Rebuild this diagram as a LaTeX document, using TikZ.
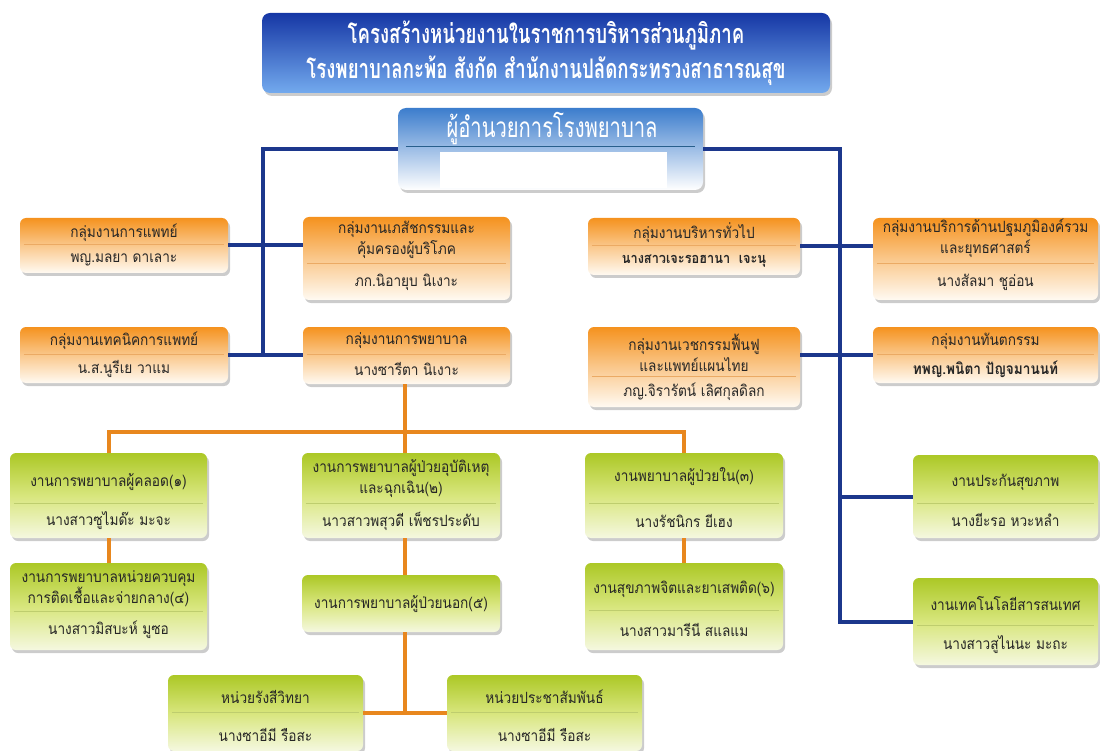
\documentclass[tikz,border=0pt]{standalone}
\usepackage{fontspec}
\newfontfamily\thai[Script=Thai,FakeStretch=0.88]{Loma}
\newfontfamily\thaic[Script=Thai,FakeStretch=0.69]{Loma}
\newfontfamily\thaid[Script=Thai,FakeStretch=0.72]{Loma}
\usetikzlibrary{calc,shadows}
\definecolor{navyline}{RGB}{28,55,140}
\definecolor{orline}{RGB}{232,135,30}
\definecolor{ortop}{RGB}{245,146,30}
\definecolor{ormid}{RGB}{250,200,140}
\definecolor{orbot}{RGB}{255,250,242}
\definecolor{grtop}{RGB}{172,200,38}
\definecolor{grmid}{RGB}{216,230,125}
\definecolor{grbot}{RGB}{245,248,224}
\definecolor{ttop}{RGB}{22,55,165}
\definecolor{tbot}{RGB}{115,170,238}
\definecolor{dtop}{RGB}{60,125,205}
\definecolor{sepor}{RGB}{235,170,100}
\definecolor{sepgr}{RGB}{190,205,110}
\definecolor{dirsep}{RGB}{40,95,140}
\tikzset{
  boxbase/.style={rectangle, rounded corners=6pt, inner sep=0pt, draw=none,
    drop shadow={shadow xshift=2pt, shadow yshift=-3pt, opacity=0.4}},
  obox/.style={boxbase, top color=ortop, bottom color=orbot, middle color=ormid},
  gbox/.style={boxbase, top color=grtop, bottom color=grbot, middle color=grmid},
  titlebox/.style={boxbase, rounded corners=8pt, top color=ttop, bottom color=tbot,
    text=white, align=center, font=\thaic\bfseries\fontsize{27}{35}\selectfont},
  dirbox/.style={boxbase, rounded corners=8pt, top color=dtop, bottom color=white},
  tx/.style={inner sep=0pt, align=center, text=black!85, font=\thai\fontsize{15.5}{21}\selectfont},
  bline/.style={draw=navyline, line width=4pt},
  oline/.style={draw=orline, line width=4pt},
  osep/.style={draw=sepor, line width=0.6pt},
  gsep/.style={draw=sepgr, line width=0.6pt},
}
\newcommand\mkbox[6]{\node[#2, minimum width={#5-#3}, minimum height={#6-#4}] (#1) at ({(#3+#5)/2},{(#4+#6)/2}) {};}
\newcommand\sepline[3]{\draw[#2] ($(#1.north west)+(4,#3)$) -- ($(#1.north east)+(-4,#3)$);}
\begin{document}
\begin{tikzpicture}[x=1pt,y=-1pt]
\useasboundingbox (0,0) rectangle (1100,751);
% ---------- boxes ----------
\node[titlebox, minimum width=568, minimum height=80] (title) at (546,53)
  {โครงสร้างหน่วยงานในราชการบริหารส่วนภูมิภาค\\โรงพยาบาลกะพ้อ สังกัด สำนักงานปลัดกระทรวงสาธารณสุข};
\mkbox{dir}{dirbox}{398}{108}{703}{190}
\node[inner sep=0pt, text=white, font=\thaid\fontsize{28}{32}\selectfont] (dirt) at (552,129) {ผู้อำนวยการโรงพยาบาล};
\draw[draw=dirsep, line width=0.8pt] ($(dir.north west)+(8,39)$) -- ($(dir.north east)+(-8,39)$);
\node[rectangle, fill=white, minimum width=227, minimum height=36, inner sep=0pt] (redact) at (553.5,170) {};

\mkbox{med}{obox}{20}{218}{228}{273}
\mkbox{tech}{obox}{20}{327}{228}{383}
\mkbox{pharm}{obox}{303}{217}{510}{300}
\mkbox{nurse}{obox}{303}{327}{510}{384}
\mkbox{admin}{obox}{588}{218}{800}{275}
\mkbox{rehab}{obox}{588}{327}{800}{407}
\mkbox{prim}{obox}{873}{218}{1098}{300}
\mkbox{dent}{obox}{873}{327}{1098}{383}

\mkbox{ga}{gbox}{10}{453}{207}{538}
\mkbox{gd}{gbox}{10}{563}{207}{650}
\mkbox{gb}{gbox}{302}{453}{500}{538}
\mkbox{ge}{gbox}{302}{575}{500}{632}
\mkbox{gc}{gbox}{585}{453}{783}{538}
\mkbox{gf}{gbox}{585}{563}{783}{650}
\mkbox{gins}{gbox}{913}{455}{1098}{538}
\mkbox{git}{gbox}{913}{578}{1098}{665}
\mkbox{grad}{gbox}{168}{675}{363}{751}
\mkbox{gpr}{gbox}{447}{675}{642}{751}

% ---------- separators ----------
\sepline{med}{osep}{27}
\sepline{tech}{osep}{27}
\sepline{pharm}{osep}{47}
\sepline{nurse}{osep}{27}
\sepline{admin}{osep}{28}
\sepline{rehab}{osep}{49}
\sepline{prim}{osep}{46}
\sepline{dent}{osep}{27}
\sepline{ga}{gsep}{50}
\sepline{gd}{gsep}{48}
\sepline{gb}{gsep}{50}
\sepline{gc}{gsep}{50}
\sepline{gf}{gsep}{47}
\sepline{gins}{gsep}{48}
\sepline{git}{gsep}{47}
\sepline{grad}{gsep}{37}
\sepline{gpr}{gsep}{37}

% ---------- texts ----------
\node[tx] (medt) at (124,233) {กลุ่มงานการแพทย์};
\node[tx] (medn) at (124,260) {พญ.มลยา ดาเลาะ};
\node[tx] (techt) at (124,341) {กลุ่มงานเทคนิคการแพทย์};
\node[tx] (techn) at (124,369) {น.ส.นูรีเย วาแม};
\node[tx] (pharmt) at (406.5,240) {กลุ่มงานเภสัชกรรมและ\\คุ้มครองผู้บริโภค};
\node[tx] (pharmn) at (406.5,282) {ภก.นิอายุบ นิเงาะ};
\node[tx] (nurset) at (406.5,341) {กลุ่มงานการพยาบาล};
\node[tx] (nursen) at (406.5,369) {นางซารีตา นิเงาะ};
\node[tx] (admint) at (694,233) {กลุ่มงานบริหารทั่วไป};
\node[tx, font=\thai\bfseries\fontsize{14.5}{20}\selectfont] (adminn) at (694,261) {นางสาวเจะรอฮานา~~เจะนุ};
\node[tx] (rehabt) at (694,353) {กลุ่มงานเวชกรรมฟื้นฟู\\และแพทย์แผนไทย};
\node[tx] (rehabn) at (694,392) {ภญ.จิรารัตน์ เลิศกุลดิลก};
\node[tx] (primt) at (985.5,238) {กลุ่มงานบริการด้านปฐมภูมิองค์รวม\\และยุทธศาสตร์};
\node[tx] (primn) at (985.5,282) {นางสัลมา ชูอ่อน};
\node[tx] (dentt) at (985.5,341) {กลุ่มงานทันตกรรม};
\node[tx, font=\thai\bfseries\fontsize{15.5}{21}\selectfont] (dentn) at (985.5,369) {ทพญ.พนิตา ปัญจมานนท์};

\node[tx] (gat) at (108.5,482) {งานการพยาบาลผู้คลอด(๑)};
\node[tx] (gan) at (108.5,521) {นางสาวซูไมด๊ะ มะจะ};
\node[tx] (gdt) at (108.5,589) {งานการพยาบาลหน่วยควบคุม\\การติดเชื้อและจ่ายกลาง(๔)};
\node[tx] (gdn) at (108.5,630) {นางสาวมิสบะห์ มูซอ};
\node[tx] (gbt) at (401,479) {งานการพยาบาลผู้ป่วยอุบัติเหตุ\\และฉุกเฉิน(๒)};
\node[tx] (gbn) at (401,521) {นาวสาวพสุวดี เพ็ชรประดับ};
\node[tx] (get) at (401,604) {งานการพยาบาลผู้ป่วยนอก(๕)};
\node[tx] (gct) at (684,477) {งานพยาบาลผู้ป่วยใน(๓)};
\node[tx] (gcn) at (684,521) {นางรัชนิกร ยีเฮง};
\node[tx] (gft) at (684,589) {งานสุขภาพจิตและยาเสพติด(๖)};
\node[tx] (gfn) at (684,630) {นางสาวมารีนี สแลแม};
\node[tx] (ginst) at (1005.5,482) {งานประกันสุขภาพ};
\node[tx] (ginsn) at (1005.5,520) {นางยีะรอ หวะหลำ};
\node[tx] (gitt) at (1005.5,604) {งานเทคโนโลยีสารสนเทศ};
\node[tx] (gitn) at (1005.5,645) {นางสาวสูไนนะ มะถะ};
\node[tx] (gradt) at (265.5,697) {หน่วยรังสีวิทยา};
\node[tx] (gradn) at (265.5,735) {นางซาอีมี รือสะ};
\node[tx] (gprt) at (544.5,697) {หน่วยประชาสัมพันธ์};
\node[tx] (gprn) at (544.5,735) {นางซาอีมี รือสะ};

% ---------- connectors ----------
\coordinate (lbus) at (263,355);
\coordinate (rbus) at (840,621.5);
\coordinate (obus) at (405,432);
\coordinate (ojoin) at (405,713);
\draw[bline] (dir.west) -| (lbus);
\draw[bline] (med.east) -- (med.east -| pharm.west);
\draw[bline] (tech.east) -- (tech.east -| nurse.west);
\draw[bline] (dir.east) -| (rbus) -- (git.west);
\draw[bline] (admin.east) -- (admin.east -| prim.west);
\draw[bline] (dent.west) -- (dent.west -| rehab.east);
\draw[bline] (rbus |- gins.west) -- (gins.west);

\draw[oline] (nurse.south -| obus) -- (obus);
\draw[oline] (ga.north) |- (obus) -| (gc.north);
\draw[oline] (obus) -- (obus |- gb.north);
\draw[oline] (ga.south) -- (gd.north);
\draw[oline] (obus |- gb.south) -- (obus |- ge.north);
\draw[oline] (obus |- ge.south) -- (ojoin);
\draw[oline] (grad.east) -- (gpr.west);
\draw[oline] (gc.south) -- (gf.north);
\end{tikzpicture}
\end{document}
